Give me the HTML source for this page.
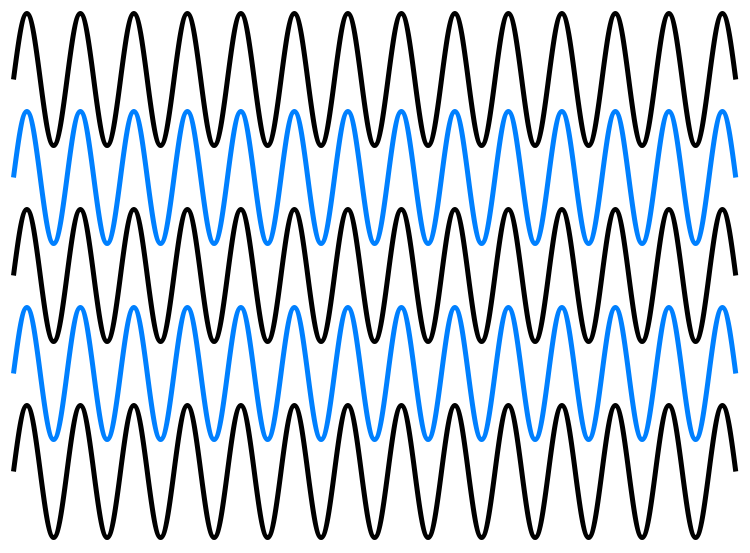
<!DOCTYPE html>
<html><head><style>html,body{margin:0;padding:0;background:#fff;}svg{display:block}</style></head>
<body>
<svg width="750" height="553" viewBox="0 0 750 553" xmlns="http://www.w3.org/2000/svg">
<defs>
<path id="w" fill="none" stroke-width="5" d="M13.5,0
c4.362,-33.81 8.535,-66 13.375,-66 c4.84,0 9.013,32.19 13.375,66 c4.362,33.81 8.535,66 13.375,66 c4.84,0 9.013,-32.19 13.375,-66
c4.362,-33.81 8.535,-66 13.375,-66 c4.84,0 9.013,32.19 13.375,66 c4.362,33.81 8.535,66 13.375,66 c4.84,0 9.013,-32.19 13.375,-66
c4.362,-33.81 8.535,-66 13.375,-66 c4.84,0 9.013,32.19 13.375,66 c4.362,33.81 8.535,66 13.375,66 c4.84,0 9.013,-32.19 13.375,-66
c4.362,-33.81 8.535,-66 13.375,-66 c4.84,0 9.013,32.19 13.375,66 c4.362,33.81 8.535,66 13.375,66 c4.84,0 9.013,-32.19 13.375,-66
c4.362,-33.81 8.535,-66 13.375,-66 c4.84,0 9.013,32.19 13.375,66 c4.362,33.81 8.535,66 13.375,66 c4.84,0 9.013,-32.19 13.375,-66
c4.362,-33.81 8.535,-66 13.375,-66 c4.84,0 9.013,32.19 13.375,66 c4.362,33.81 8.535,66 13.375,66 c4.84,0 9.013,-32.19 13.375,-66
c4.362,-33.81 8.535,-66 13.375,-66 c4.84,0 9.013,32.19 13.375,66 c4.362,33.81 8.535,66 13.375,66 c4.84,0 9.013,-32.19 13.375,-66
c4.362,-33.81 8.535,-66 13.375,-66 c4.84,0 9.013,32.19 13.375,66 c4.362,33.81 8.535,66 13.375,66 c4.84,0 9.013,-32.19 13.375,-66
c4.362,-33.81 8.535,-66 13.375,-66 c4.84,0 9.013,32.19 13.375,66 c4.362,33.81 8.535,66 13.375,66 c4.84,0 9.013,-32.19 13.375,-66
c4.362,-33.81 8.535,-66 13.375,-66 c4.84,0 9.013,32.19 13.375,66 c4.362,33.81 8.535,66 13.375,66 c4.84,0 9.013,-32.19 13.375,-66
c4.362,-33.81 8.535,-66 13.375,-66 c4.84,0 9.013,32.19 13.375,66 c4.362,33.81 8.535,66 13.375,66 c4.84,0 9.013,-32.19 13.375,-66
c4.362,-33.81 8.535,-66 13.375,-66 c4.84,0 9.013,32.19 13.375,66 c4.362,33.81 8.535,66 13.375,66 c4.84,0 9.013,-32.19 13.375,-66
c4.362,-33.81 8.535,-66 13.375,-66 c4.84,0 9.013,32.19 13.375,66 c4.362,33.81 8.535,66 13.375,66 c4.84,0 9.013,-32.19 13.375,-66
c4.362,-33.81 8.535,-66 13.375,-66 c4.84,0 9.013,32.19 13.375,66"/>
</defs>
<use href="#w" stroke="#000" transform="translate(0,79.5)"/>
<use href="#w" stroke="#0080ff" transform="translate(0,177.5)"/>
<use href="#w" stroke="#000" transform="translate(0,275.5)"/>
<use href="#w" stroke="#0080ff" transform="translate(0,373.5)"/>
<use href="#w" stroke="#000" transform="translate(0,471.5)"/>
</svg>
</body></html>
